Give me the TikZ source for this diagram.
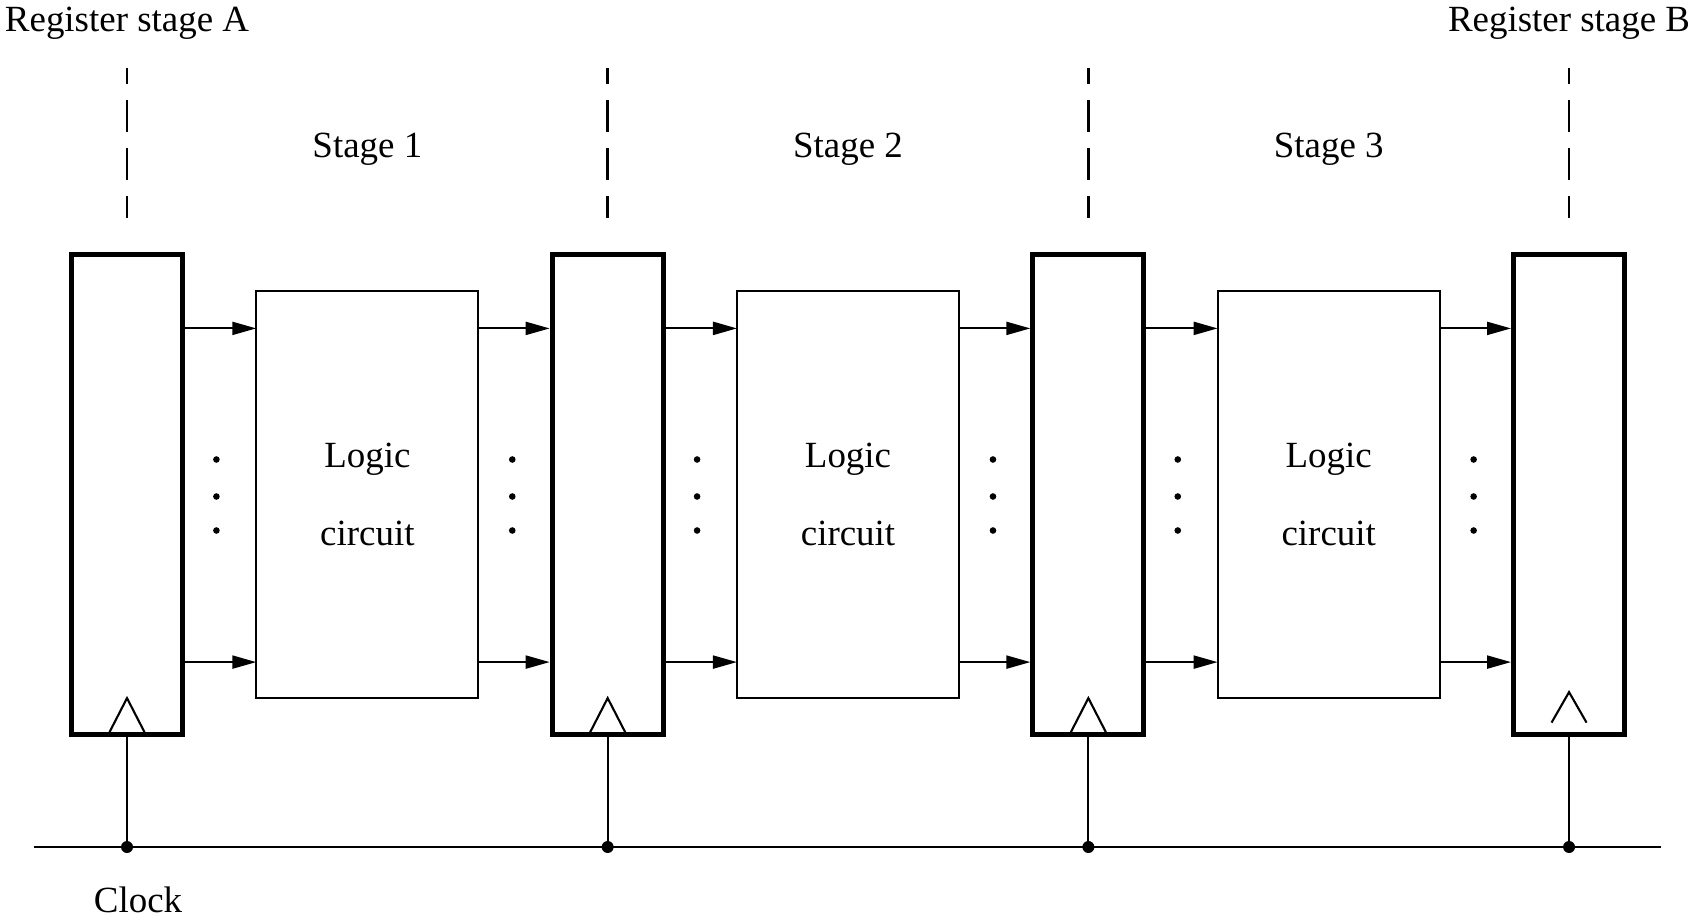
\documentclass[tikz,border=0pt]{standalone}
\usepackage{fontspec}
\setmainfont{Liberation Serif}
\usetikzlibrary{positioning,calc,arrows.meta}

\begin{document}
\begin{tikzpicture}[x=0.01cm, y=-0.01cm, font=\fontsize{10.5}{12}\selectfont,
 >={Triangle[length=2.4mm,width=1.3mm]},
 reg/.style={draw, line width=1.4pt, minimum width=11.1mm, minimum height=48mm, outer sep=0pt},
 logic/.style={draw, line width=0.55pt, minimum width=22.2mm, minimum height=40.6mm, outer sep=0pt,
            align=center, font=\fontsize{10.5}{22}\selectfont},
 wire/.style={line width=0.6pt},
 guide/.style={line width=0.8pt, dash pattern=on 3.2mm off 1.6mm, dash phase=1.6mm},
 node distance=7.37mm]

            \useasboundingbox (0,0) rectangle (1688,916);

            \node[reg] (regA) at (127,494.5) {};
            \node[logic, right=of regA] (logic1) {Logic\\circuit};
            \node[reg, right=of logic1] (reg1) {};
            \node[logic, right=of reg1] (logic2) {Logic\\circuit};
            \node[reg, right=of logic2] (reg2) {};
            \node[logic, right=of reg2] (logic3) {Logic\\circuit};
            \node[reg, right=of logic3] (regB) {};

            \node[anchor=base] (labA) at (regA |- 0,32) {Register stage A};
            \node[anchor=base] (labB) at (regB |- 0,32) {Register stage B};
            \node[anchor=base] (stage1) at (logic1 |- 0,158) {Stage 1};
            \node[anchor=base] (stage2) at (logic2 |- 0,158) {Stage 2};
            \node[anchor=base] (stage3) at (logic3 |- 0,158) {Stage 3};
            \node[anchor=base] (clklabel) at (138,912) {Clock};

			\draw[guide] (regA |- 0,68) -- (regA |- 0,218);
			\draw[guide] (reg1 |- 0,68) -- (reg1 |- 0,218);
			\draw[guide] (reg2 |- 0,68) -- (reg2 |- 0,218);
			\draw[guide] (regB |- 0,68) -- (regB |- 0,218);

			\draw[wire,->] ([yshift=16.6mm]regA.east) -- ([yshift=16.6mm]logic1.west);
			\draw[wire,->] ([yshift=-16.75mm]regA.east) -- ([yshift=-16.75mm]logic1.west);
			\draw[wire,->,shorten >=0.7pt] ([yshift=16.6mm]logic1.east) -- ([yshift=16.6mm]reg1.west);
			\draw[wire,->,shorten >=0.7pt] ([yshift=-16.75mm]logic1.east) -- ([yshift=-16.75mm]reg1.west);
			\draw[wire,->] ([yshift=16.6mm]reg1.east) -- ([yshift=16.6mm]logic2.west);
			\draw[wire,->] ([yshift=-16.75mm]reg1.east) -- ([yshift=-16.75mm]logic2.west);
			\draw[wire,->,shorten >=0.7pt] ([yshift=16.6mm]logic2.east) -- ([yshift=16.6mm]reg2.west);
			\draw[wire,->,shorten >=0.7pt] ([yshift=-16.75mm]logic2.east) -- ([yshift=-16.75mm]reg2.west);
			\draw[wire,->] ([yshift=16.6mm]reg2.east) -- ([yshift=16.6mm]logic3.west);
			\draw[wire,->] ([yshift=-16.75mm]reg2.east) -- ([yshift=-16.75mm]logic3.west);
			\draw[wire,->,shorten >=0.7pt] ([yshift=16.6mm]logic3.east) -- ([yshift=16.6mm]regB.west);
			\draw[wire,->,shorten >=0.7pt] ([yshift=-16.75mm]logic3.east) -- ([yshift=-16.75mm]regB.west);

			% dots between the arrows
			\fill ($(regA.east)!.5!(logic1.west)+(-3,2)$) circle (0.33mm) ++(0,-37) circle (0.33mm) ++(0,71) circle (0.33mm);
			\fill ($(logic1.east)!.5!(reg1.west)+(-3,2)$) circle (0.33mm) ++(0,-37) circle (0.33mm) ++(0,71) circle (0.33mm);
			\fill ($(reg1.east)!.5!(logic2.west)+(-3,2)$) circle (0.33mm) ++(0,-37) circle (0.33mm) ++(0,71) circle (0.33mm);
			\fill ($(logic2.east)!.5!(reg2.west)+(-3,2)$) circle (0.33mm) ++(0,-37) circle (0.33mm) ++(0,71) circle (0.33mm);
			\fill ($(reg2.east)!.5!(logic3.west)+(-3,2)$) circle (0.33mm) ++(0,-37) circle (0.33mm) ++(0,71) circle (0.33mm);
			\fill ($(logic3.east)!.5!(regB.west)+(-3,2)$) circle (0.33mm) ++(0,-37) circle (0.33mm) ++(0,71) circle (0.33mm);

			% clock triangles
			\draw[wire] ([shift={(-1.75mm,0.7pt)}]regA.south) -- ([yshift=3.65mm]regA.south) -- ([shift={(1.75mm,0.7pt)}]regA.south);
			\draw[wire] ([shift={(-1.75mm,0.7pt)}]reg1.south) -- ([yshift=3.65mm]reg1.south) -- ([shift={(1.75mm,0.7pt)}]reg1.south);
			\draw[wire] ([shift={(-1.75mm,0.7pt)}]reg2.south) -- ([yshift=3.65mm]reg2.south) -- ([shift={(1.75mm,0.7pt)}]reg2.south);
			\draw[wire] ([shift={(-1.75mm,1.2mm)}]regB.south) -- ([yshift=4.25mm]regB.south) -- ([shift={(1.75mm,1.2mm)}]regB.south);

			\coordinate (clkL) at (34,847);
			\coordinate (clkR) at (1661,847);
			\draw[wire] (clkL) -- (clkR);
			\draw[wire] (regA.south) -- (regA.south |- clkL);
			\draw[wire] (reg1.south) -- (reg1.south |- clkL);
			\draw[wire] (reg2.south) -- (reg2.south |- clkL);
			\draw[wire] (regB.south) -- (regB.south |- clkL);
			\fill (regA.south |- clkL) circle (0.6mm);
			\fill (reg1.south |- clkL) circle (0.6mm);
			\fill (reg2.south |- clkL) circle (0.6mm);
			\fill (regB.south |- clkL) circle (0.6mm);
\end{tikzpicture}
\end{document}
